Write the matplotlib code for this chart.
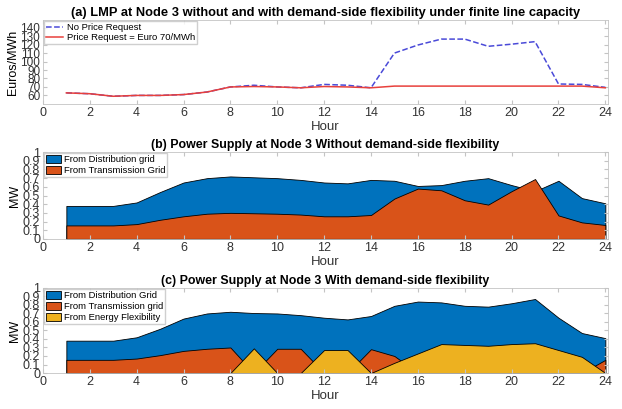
import numpy as np
import matplotlib
matplotlib.use("Agg")
import matplotlib.pyplot as plt

plt.rcParams['font.family'] = ['Liberation Sans', 'DejaVu Sans']

# hours of the day
hours = np.arange(1, 25)

# (a) LMP at node 3, Euros/MWh
lmp_no_request = [63, 62, 59, 60, 60, 61, 64, 70, 72, 70, 69, 73, 72, 69,
                  110, 119.5, 126.5, 126.5, 118, 120.5, 123.5, 73.5, 73, 69.5]
lmp_request_70 = [63, 62, 59, 60, 60, 61, 64, 70, 70.5, 70, 69, 70.5, 70, 69,
                  71, 71, 71, 71, 71, 71, 71, 71, 71, 69]

# (b) supply without demand-side flexibility, MW
b_distribution = [0.38, 0.38, 0.38, 0.42, 0.54, 0.65, 0.70, 0.72, 0.71, 0.70, 0.68, 0.65,
                  0.64, 0.68, 0.67, 0.61, 0.62, 0.67, 0.70, 0.62, 0.55, 0.67, 0.47, 0.41]
b_transmission = [0.155, 0.155, 0.155, 0.17, 0.22, 0.26, 0.29, 0.30, 0.295, 0.29, 0.28, 0.26,
                  0.26, 0.275, 0.465, 0.58, 0.56, 0.445, 0.395, 0.55, 0.69, 0.27, 0.19, 0.16]

# (c) supply with demand-side flexibility, MW
c_distribution = [0.38, 0.38, 0.38, 0.42, 0.52, 0.64, 0.70, 0.72, 0.705, 0.70, 0.68, 0.65,
                  0.63, 0.67, 0.79, 0.84, 0.83, 0.79, 0.78, 0.82, 0.87, 0.65, 0.47, 0.41]
c_transmission = [0.155, 0.155, 0.155, 0.17, 0.21, 0.26, 0.285, 0.30, 0.0, 0.285, 0.285, 0.0,
                  0.0, 0.28, 0.2, 0.0, 0.0, 0.0, 0.0, 0.0, 0.0, 0.0, 0.0, 0.155]
c_flexibility = [0, 0, 0, 0, 0, 0, 0, 0, 0.29, 0, 0, 0.27,
                 0.27, 0, 0.12, 0.23, 0.34, 0.33, 0.32, 0.34, 0.35, 0.27, 0.19, 0]

C_BLUE = '#0072BD'
C_ORANGE = '#D95319'
C_YELLOW = '#EDB120'
MW_LABELS = ['0', '0.1', '0.2', '0.3', '0.4', '0.5', '0.6', '0.7', '0.8', '0.9', '1']


def style_axes(ax):
    for s in ax.spines.values():
        s.set_color('#c4c4c4')
        s.set_linewidth(0.6)
    ax.tick_params(direction='in', top=True, right=True, length=3,
                   color='#c4c4c4', labelcolor='#333333', labelsize=9, pad=2)
    ax.set_xlim(0, 24.1)
    ax.set_xticks(np.arange(0, 25, 2))
    ax.set_xlabel('Hour', fontsize=9.5, labelpad=1.5, color='#333333')


def add_legend(ax):
    ax.legend(loc='upper left', fontsize=6.8, frameon=True, fancybox=False, edgecolor='#c4c4c4',
              borderpad=0.2, labelspacing=0.15, handlelength=1.6, handleheight=1.0,
              handletextpad=0.3, borderaxespad=0.1)


fig = plt.figure(figsize=(6.22, 4.09), dpi=100)
left, width = 0.069, 0.908
ax_a = fig.add_axes([left, 0.746, width, 0.205])
ax_b = fig.add_axes([left, 0.416, width, 0.212])
ax_c = fig.add_axes([left, 0.088, width, 0.208])

# (a)
ax_a.plot(hours, lmp_no_request, '--', color='#4a4ad8', lw=1.1, label='No Price Request')
ax_a.plot(hours, lmp_request_70, '-', color='#e8403c', lw=1.1, label='Price Request = Euro 70/MWh')
style_axes(ax_a)
ax_a.set_ylim(50, 149)
ax_a.set_yticks(np.arange(60, 141, 10))
ax_a.tick_params(axis='y', labelsize=8.5)
ax_a.set_ylabel('Euros/MWh', fontsize=9, labelpad=1)
ax_a.set_title('(a) LMP at Node 3 without and with demand-side flexibility under finite line capacity',
               fontsize=9.3, fontweight='bold', pad=3)
ax_a.legend(loc='upper left', fontsize=6.8, frameon=True, fancybox=False, edgecolor='#c4c4c4',
            borderpad=0.2, labelspacing=0.1, handlelength=1.8, handletextpad=0.4,
            borderaxespad=0.1)

# (b)
ax_b.fill_between(hours, 0, b_distribution, facecolor=C_BLUE, edgecolor='black', lw=0.6,
                  label='From Distribution grid')
ax_b.fill_between(hours, 0, b_transmission, facecolor=C_ORANGE, edgecolor='black', lw=0.6,
                  label='From Transmission Grid')
style_axes(ax_b)
ax_b.set_ylim(0, 1)
ax_b.set_yticks(np.arange(0, 1.01, 0.1))
ax_b.set_yticklabels(MW_LABELS)
ax_b.set_ylabel('MW', fontsize=9, labelpad=1)
ax_b.set_title('(b) Power Supply at Node 3 Without demand-side flexibility',
               fontsize=8.9, fontweight='bold', pad=3)
add_legend(ax_b)

# (c)
ax_c.fill_between(hours, 0, c_distribution, facecolor=C_BLUE, edgecolor='black', lw=0.6,
                  label='From Distribution Grid')
ax_c.fill_between(hours, 0, c_transmission, facecolor=C_ORANGE, edgecolor='black', lw=0.6,
                  label='From Transmission grid')
ax_c.fill_between(hours, 0, c_flexibility, facecolor=C_YELLOW, edgecolor='black', lw=0.6,
                  label='From Energy Flexibility')
style_axes(ax_c)
ax_c.set_ylim(0, 1)
ax_c.set_yticks(np.arange(0, 1.01, 0.1))
ax_c.set_yticklabels(MW_LABELS)
ax_c.set_ylabel('MW', fontsize=9, labelpad=1)
ax_c.set_title('(c) Power Supply at Node 3 With demand-side flexibility',
               fontsize=8.9, fontweight='bold', pad=3)
add_legend(ax_c)

fig.savefig('out.png', dpi=100, facecolor='white')
